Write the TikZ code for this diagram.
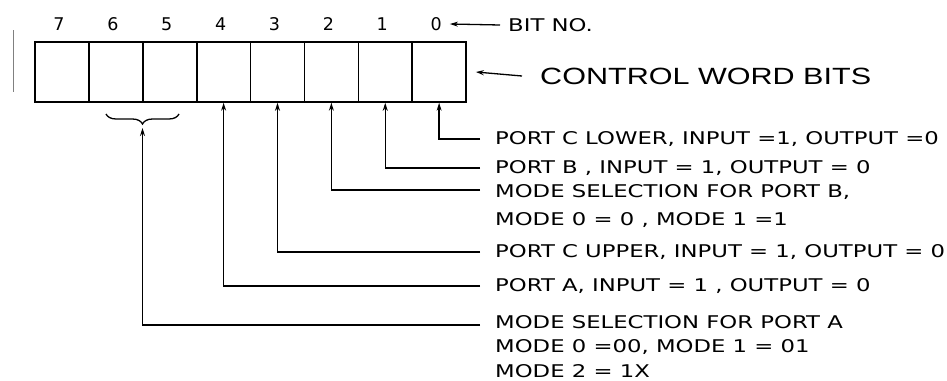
\documentclass[tikz,border=0pt]{standalone}
\usepackage{fontspec}
\setmainfont{DejaVu Sans}
\newfontfamily\ctlfont{Liberation Sans}
\usetikzlibrary{arrows.meta,decorations.pathreplacing}
\newcommand\wideLbl[1]{\scalebox{1.3}[1]{#1}}
\tikzset{
  bitbox/.style={draw, line width=1.6pt, minimum width=53.9pt, minimum height=60pt, inner sep=0pt},
  bitnum/.style={font=\fontsize{17.5pt}{17.5pt}\selectfont, inner sep=0pt},
  lbl/.style={anchor=west, inner sep=0pt, font=\fontsize{17.5pt}{17.5pt}\selectfont},
  conn/.style={line width=1.3pt, -{Stealth[length=8pt,width=5pt]}},
}
\begin{document}
\begin{tikzpicture}[x=1pt,y=-1pt]
\useasboundingbox (0,0) rectangle (947,380);
% boxes
\foreach \i in {7,...,0} {
  \node[bitbox] (b\i) at ({62+53.875*(7-\i)},72) {};
  \node[bitnum] (n\i) at ({59+53.875*(7-\i)},24) {\i};
}
\draw[line width=0.7pt, gray] (13,30) -- (13,92);
% bit no
\node[lbl] (bitno) at (508,25) {\wideLbl{BIT NO.}};
\draw[conn] ([xshift=-8pt]bitno.west) -- ([xshift=8pt]n0.east);
% control word bits
\node[anchor=west, inner sep=0pt] (cwb) at (540,76) {\ctlfont\fontsize{23.5pt}{23.5pt}\selectfont\scalebox{1.3}[1]{CONTROL WORD BITS}};
\draw[conn] ([xshift=-18pt]cwb.west) -- ([xshift=9pt]b0.east);
% labels
\node[lbl] (l0) at (495,139) {\wideLbl{PORT C LOWER, INPUT =1, OUTPUT =0}};
\node[lbl] (l1) at (495,168) {\wideLbl{PORT B , INPUT = 1, OUTPUT = 0}};
\node[lbl] (l2) at (495,192) {\wideLbl{MODE SELECTION FOR PORT B,}};
\node[lbl] (l2b) at (495,220) {\wideLbl{MODE 0 = 0 , MODE 1 =1}};
\node[lbl] (l3) at (495,252) {\wideLbl{PORT C UPPER, INPUT = 1, OUTPUT = 0}};
\node[lbl] (l4) at (495,286) {\wideLbl{PORT A, INPUT = 1 , OUTPUT = 0}};
\node[lbl] (l5) at (495,322) {\wideLbl{MODE SELECTION FOR PORT A}};
\node[lbl] (l5b) at (495,347) {\wideLbl{MODE 0 =00, MODE 1 = 01}};
\node[lbl] (l5c) at (495,371) {\wideLbl{MODE 2 = 1X}};
% brace
\draw[line width=1.3pt, decorate, decoration={brace, amplitude=10pt, mirror}] (106,114) -- (179,114);
\coordinate (bt) at (142.5,128);
% connectors
\draw[conn] ([xshift=-15pt]l0.west) -| (b0.south);
\draw[conn] ([xshift=-15pt]l1.west) -| (b1.south);
\draw[conn] ([xshift=-15pt,yshift=2pt]l2.west) -| (b2.south);
\draw[conn] ([xshift=-15pt]l3.west) -| (b3.south);
\draw[conn] ([xshift=-15pt]l4.west) -| (b4.south);
\draw[conn] ([xshift=-15pt,yshift=-3pt]l5.west) -| (bt);
\end{tikzpicture}
\end{document}
